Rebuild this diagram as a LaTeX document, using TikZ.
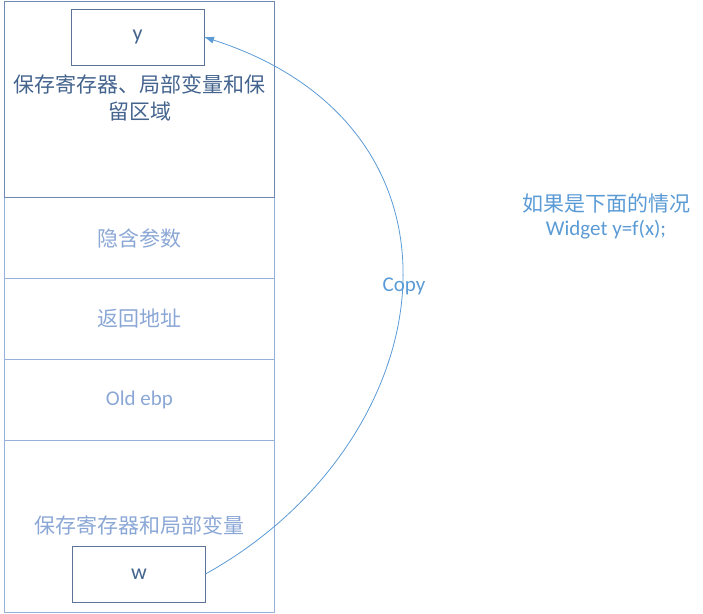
\documentclass[tikz,border=0pt]{standalone}
\usepackage{fontspec}
\setmainfont{Carlito}
\newfontfamily\cjk{Noto Sans CJK SC}
\usetikzlibrary{arrows.meta}
\definecolor{darkframe}{RGB}{110,136,178}
\definecolor{boxframe}{RGB}{92,116,152}
\definecolor{lightframe}{RGB}{150,176,218}
\definecolor{darktext}{RGB}{68,100,142}
\definecolor{lighttext}{RGB}{139,167,214}
\definecolor{accent}{RGB}{91,155,213}
\tikzset{
  block/.style={draw=#1, line width=1pt, inner sep=0pt, outer sep=0pt, anchor=north west},
  varbox/.style={draw=boxframe, line width=1pt, inner sep=0pt, outer sep=0pt,
    minimum width=133pt, minimum height=56pt, font=\fontsize{22}{24}\selectfont, text=darktext},
  cjklabel/.style={inner sep=0pt, font=\cjk\fontsize{21}{27}\selectfont, align=center},
  latinlabel/.style={inner sep=0pt, font=\fontsize{21}{27}\selectfont, align=center},
  copyarrow/.style={draw=accent, line width=0.8pt, -{Latex[length=10pt,width=7pt]}}
}
\begin{document}
\begin{tikzpicture}[x=1pt,y=-1pt]
\useasboundingbox (0,0) rectangle (703,613);
% stack frame cells, bottom to top
\node[block=lightframe, minimum width=270pt, minimum height=172pt] (locals) at (4,440) {};
\node[block=lightframe, minimum width=270pt, minimum height=81pt] (ebp) at (4,359) {};
\node[block=lightframe, minimum width=270pt, minimum height=81pt] (ret) at (4,278) {};
\node[block=lightframe, minimum width=270pt, minimum height=81pt] (hidden) at (4,197) {};
\node[block=darkframe, minimum width=270pt, minimum height=196pt] (saved) at (4,1) {};
% cell captions
\node[cjklabel, text=darktext] (savedtxt) at (139.5,98) {保存寄存器、局部变量和保\\留区域};
\node[cjklabel, text=lighttext] (hiddentxt) at (139.5,238) {隐含参数};
\node[cjklabel, text=lighttext] (rettxt) at (139.5,319) {返回地址};
\node[latinlabel, text=lighttext] (ebptxt) at (139.5,400) {Old ebp};
\node[cjklabel, text=lighttext] (localstxt) at (139,525) {保存寄存器和局部变量};
% variable slots
\node[varbox] (y) at (137.5,37) {y};
\node[varbox] (w) at (139,574) {w};
% copy connector
\draw[copyarrow] (w.east) .. controls (444,441) and (490,129) .. (y.east);
\node[latinlabel, text=accent] (copy) at (404,286) {Copy};
% side note
\node[cjklabel, text=accent] (note1) at (606,203) {如果是下面的情况};
\node[latinlabel, text=accent] (note2) at (606,230) {Widget y=f(x);};
\end{tikzpicture}
\end{document}
